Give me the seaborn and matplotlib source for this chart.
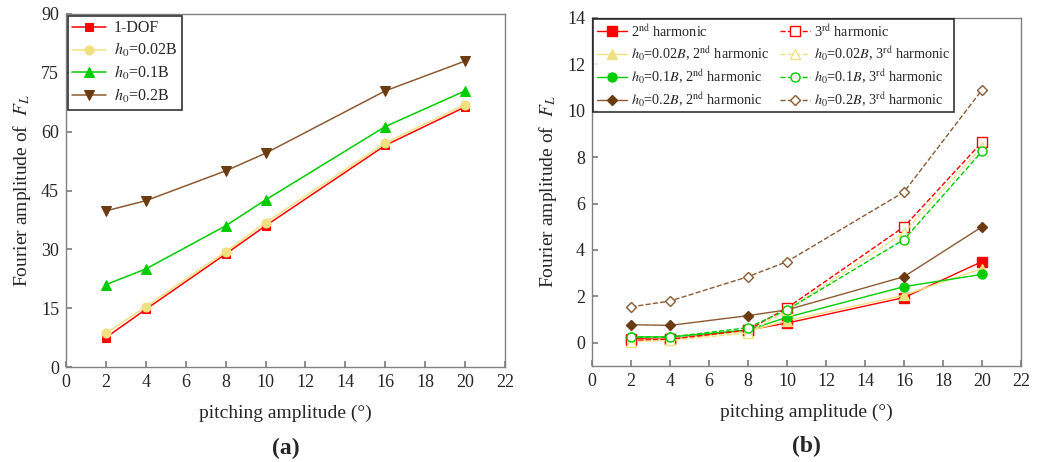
import matplotlib
matplotlib.use("Agg")
import matplotlib.pyplot as plt
import numpy as np
import pandas as pd
import seaborn as sns

# pitching amplitude (deg)
amp = [2, 4, 8, 10, 16, 20]

# (a) Fourier amplitude of F_L, 1st harmonic
dof1 = [7.5, 14.7, 28.8, 36.0, 56.5, 66.3]
h002 = [8.6, 15.4, 29.4, 36.8, 57.1, 66.9]
h01 = [21.0, 25.0, 36.0, 42.6, 61.3, 70.4]
h02 = [39.8, 42.4, 50.0, 54.5, 70.4, 78.0]

# (b) higher harmonics
dof1_2nd = [0.18, 0.15, 0.55, 0.85, 1.95, 3.5]
dof1_3rd = [0.10, 0.15, 0.55, 1.50, 5.00, 8.65]
h002_2nd = [0.10, 0.15, 0.50, 0.95, 2.05, 3.2]
h002_3rd = [0.05, 0.10, 0.42, 1.40, 4.75, 8.45]
h01_2nd = [0.25, 0.25, 0.55, 1.10, 2.42, 2.95]
h01_3rd = [0.25, 0.25, 0.65, 1.42, 4.45, 8.25]
h02_2nd = [0.78, 0.75, 1.17, 1.42, 2.85, 5.0]
h02_3rd = [1.55, 1.80, 2.85, 3.50, 6.50, 10.9]

sns.set_theme(style="ticks")
plt.rcParams['font.family'] = ['Liberation Serif', 'DejaVu Serif']
plt.rcParams['mathtext.fontset'] = 'stix'

RED = '#ff0000'
YEL = '#f0e080'
GRN = '#00cc00'
BRN_L = '#8c5a32'
BRN_M = '#6a3a10'

fig = plt.figure(figsize=(10.48, 4.62), dpi=100)
ax1 = fig.add_axes([66 / 1048, 1 - 367 / 462, 439 / 1048, 353 / 462])
ax2 = fig.add_axes([592 / 1048, 1 - 366 / 462, 429 / 1048, 348 / 462])

# ---- panel (a)
series_a = [
    (dof1, '1-DOF', RED, RED, 's', 6),
    (h002, '$h_0$=0.02B', YEL, YEL, 'o', 6.5),
    (h01, '$h_0$=0.1B', GRN, GRN, '^', 6.5),
    (h02, '$h_0$=0.2B', BRN_L, BRN_M, 'v', 6.5),
]
for vals, lab, lc, mc, mk, ms in series_a:
    sns.lineplot(x=amp, y=vals, ax=ax1, color=lc, marker=mk, markersize=ms,
                 markerfacecolor=mc, markeredgecolor=mc, linewidth=1.1, label=lab)

ax1.set_xlim(0, 22)
ax1.set_ylim(0, 90)
ax1.set_xticks(np.arange(0, 23, 2))
ax1.set_yticks(np.arange(0, 91, 15))

# ---- panel (b)
series_b = [
    (dof1_2nd, '2$^{\\rm nd}$ harmonic', RED, 's', '-', True),
    (h002_2nd, '$h_0$=0.02$B$, 2$^{\\rm nd}$ harmonic', YEL, '^', '-', True),
    (h01_2nd, '$h_0$=0.1$B$, 2$^{\\rm nd}$ harmonic', GRN, 'o', '-', True),
    (h02_2nd, '$h_0$=0.2$B$, 2$^{\\rm nd}$ harmonic', BRN_L, 'D', '-', True),
    (dof1_3rd, '3$^{\\rm rd}$ harmonic', RED, 's', '--', False),
    (h002_3rd, '$h_0$=0.02$B$, 3$^{\\rm rd}$ harmonic', YEL, '^', '--', False),
    (h01_3rd, '$h_0$=0.1$B$, 3$^{\\rm rd}$ harmonic', GRN, 'o', '--', False),
    (h02_3rd, '$h_0$=0.2$B$, 3$^{\\rm rd}$ harmonic', BRN_L, 'D', '--', False),
]
for vals, lab, c, mk, ls, filled in series_b:
    mc = BRN_M if c == BRN_L and filled else c
    sns.lineplot(x=amp, y=vals, ax=ax2, color=c, marker=mk, markersize=6.5 if mk != 'D' else 5.5,
                 markerfacecolor=mc if filled else 'white', markeredgecolor=mc,
                 markeredgewidth=1.0, linestyle=ls, linewidth=1.0, label=lab)

ax2.set_xlim(0, 22)
ax2.set_ylim(-1, 14)
ax2.set_xticks(np.arange(0, 23, 2))
ax2.set_yticks(np.arange(0, 15, 2))

for ax, panel in [(ax1, '(a)'), (ax2, '(b)')]:
    for s in ax.spines.values():
        s.set_color('#808080')
        s.set_linewidth(1.0)
    ax.tick_params(direction='in', length=4, color='#808080', labelsize=13, pad=5)
    ax.set_xlabel('pitching amplitude (°)', fontsize=14, labelpad=10)
    ax.set_ylabel('Fourier amplitude of  $F_L$', fontsize=14, labelpad=6)
    ax.text(0.5, -0.23, panel, transform=ax.transAxes, ha='center', va='center',
            fontsize=17, fontweight='bold')

leg1 = ax1.legend(loc='upper left', fontsize=11.5, frameon=True, fancybox=False,
                  edgecolor='black', handlelength=2.1, borderaxespad=0.1,
                  labelspacing=0.3, borderpad=0.3, handletextpad=0.5)
leg1.get_frame().set_linewidth(1.2)

leg2 = ax2.legend(loc='upper left', ncol=2, fontsize=10.3, frameon=True, fancybox=False,
                  edgecolor='black', handlelength=2.1, borderaxespad=0.1,
                  labelspacing=0.35, borderpad=0.25, columnspacing=0.7,
                  handletextpad=0.3)
leg2.get_frame().set_linewidth(1.2)

fig.savefig('out.png', dpi=100)
